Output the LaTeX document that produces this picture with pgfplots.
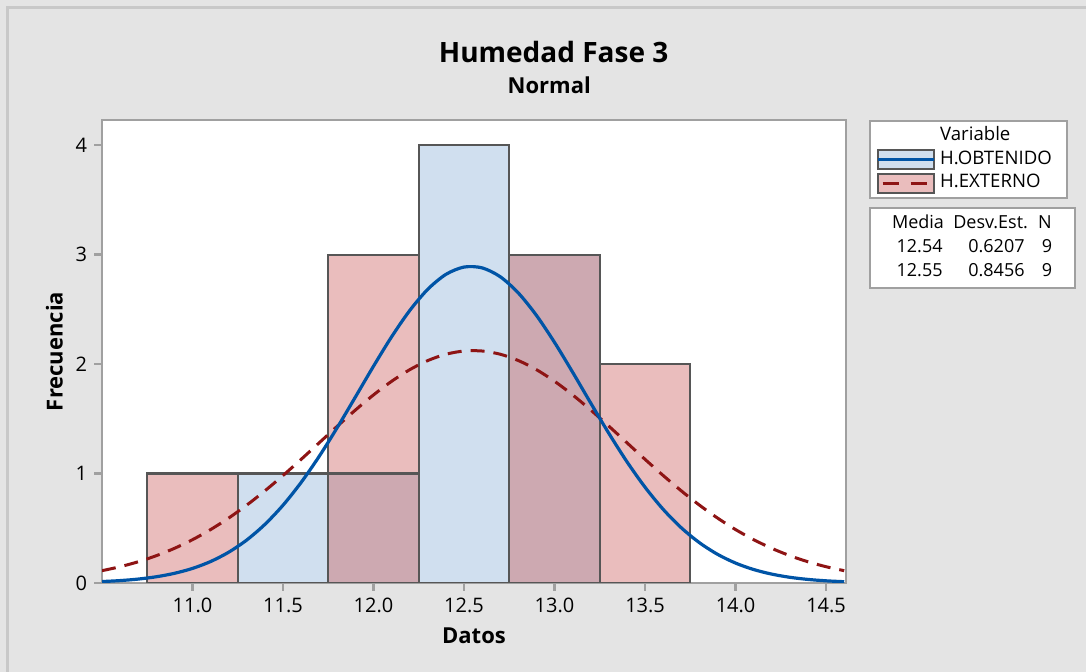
\documentclass[border=0pt]{standalone}
\usepackage{pgfplots}
\pgfplotsset{compat=1.18}
\usepackage{fontspec}
\setmainfont{Open Sans}
\definecolor{bgc}{RGB}{228,228,228}
\definecolor{framec}{RGB}{200,200,200}
\definecolor{axisc}{RGB}{160,160,160}
\definecolor{edgec}{RGB}{86,86,86}
\definecolor{bluefill}{RGB}{208,223,239}
\definecolor{pinkfill}{RGB}{234,189,189}
\definecolor{mixfill}{RGB}{205,169,177}
\definecolor{blueline}{RGB}{0,84,166}
\definecolor{redline}{RGB}{142,20,20}

\pgfplotstableread{
x y
10.5 0.0131
10.6 0.0219
10.7 0.0357
10.8 0.0569
10.9 0.0882
11.0 0.1332
11.1 0.1961
11.2 0.2813
11.3 0.3932
11.4 0.5356
11.5 0.7106
11.6 0.9188
11.7 1.1576
11.8 1.4210
11.9 1.6997
12.0 1.9810
12.1 2.2497
12.2 2.4894
12.3 2.6840
12.4 2.8196
12.5 2.8863
12.6 2.8788
12.7 2.7978
12.8 2.6494
12.9 2.4445
13.0 2.1977
13.1 1.9252
13.2 1.6433
13.3 1.3668
13.4 1.1076
13.5 0.8746
13.6 0.6729
13.7 0.5045
13.8 0.3685
13.9 0.2623
14.0 0.1819
14.1 0.1229
14.2 0.0810
14.3 0.0519
14.4 0.0325
14.5 0.0198
14.6 0.0117
}\obtenidocurve

\pgfplotstableread{
x y
10.5 0.1124
10.6 0.1487
10.7 0.1939
10.8 0.2494
10.9 0.3164
11.0 0.3957
11.1 0.4880
11.2 0.5936
11.3 0.7119
11.4 0.8420
11.5 0.9821
11.6 1.1295
11.7 1.2810
11.8 1.4326
11.9 1.5800
12.0 1.7183
12.1 1.8427
12.2 1.9487
12.3 2.0322
12.4 2.0899
12.5 2.1193
12.6 2.1193
12.7 2.0899
12.8 2.0322
12.9 1.9487
13.0 1.8427
13.1 1.7183
13.2 1.5800
13.3 1.4326
13.4 1.2810
13.5 1.1295
13.6 0.9821
13.7 0.8420
13.8 0.7119
13.9 0.5936
14.0 0.4880
14.1 0.3957
14.2 0.3164
14.3 0.2494
14.4 0.1939
14.5 0.1487
14.6 0.1124
}\externocurve

\begin{document}
\begin{tikzpicture}
\path[use as bounding box] (0,0) rectangle (543pt,336pt);
\fill[bgc] (0,0) rectangle (543pt,336pt);
\draw[framec, line width=1.3pt] (3.75pt,0) -- (3.75pt,332.25pt) -- (543pt,332.25pt);

\node[anchor=base, font=\fontsize{14}{16}\selectfont\bfseries] at (276.8pt,304.6pt) {Humedad Fase 3};
\node[anchor=base, font=\fontsize{11}{13}\selectfont\bfseries] at (274.6pt,289pt) {Normal};

\begin{axis}[
  at={(51pt,44.5pt)}, anchor=south west,
  scale only axis, width=372pt, height=231.5pt,
  xmin=10.5, xmax=14.61, ymin=0, ymax=4.23,
  axis background/.style={fill=white},
  axis line style={draw=axisc, line width=1.2pt},
  tick pos=left, tick align=outside,
  major tick length=4pt,
  every tick/.style={draw=axisc, line width=1.2pt},
  xtick={11,11.5,12,12.5,13,13.5,14,14.5},
  ytick={0,1,2,3,4},
  xticklabel style={/pgf/number format/.cd, fixed, fixed zerofill, precision=1},
  /pgf/number format/assume math mode=true,
  tick label style={font=\fontsize{10}{12}\selectfont, text=black},
  xlabel={Datos}, ylabel={Frecuencia},
  xlabel style={at={(axis description cs:0.5,0)}, anchor=base, yshift=-30.5pt, font=\fontsize{11}{13}\selectfont\bfseries},
  ylabel style={at={(axis description cs:-0.053,0.5)}, anchor=base, font=\fontsize{11}{13}\selectfont\bfseries},
  legend style={
    at={(axis description cs:1,1)}, anchor=north west, xshift=11.5pt,
    fill=white, draw=axisc, line width=1pt,
    font=\fontsize{9.3}{10}\selectfont,
    inner xsep=3pt, inner ysep=1.6pt, row sep=0pt,
    nodes={text height=6.7pt, text depth=1.9pt, inner ysep=1.6pt, inner xsep=2.5pt},
  },
  legend cell align=left,
]
% H.EXTERNO histogram
\addplot[ybar, bar width=0.5, bar shift=0pt, fill=pinkfill, draw=edgec, line width=1.1pt, forget plot]
  coordinates {(11.0,1) (12.0,3) (13.0,3) (13.5,2)};
% H.OBTENIDO histogram
\addplot[ybar, bar width=0.5, bar shift=0pt, fill=bluefill, draw=edgec, line width=1.1pt, forget plot]
  coordinates {(11.5,1) (12.0,1) (12.5,4) (13.0,3)};
% overlap of both histograms
\addplot[ybar, bar width=0.5, bar shift=0pt, fill=mixfill, draw=edgec, line width=1.1pt, forget plot]
  coordinates {(12.0,1) (13.0,3)};
% fitted normal curves
\addplot[smooth, redline, line width=1.5pt, dash pattern=on 7pt off 4.5pt, forget plot] table[x=x,y=y] {\externocurve};
\addplot[smooth, blueline, line width=1.6pt, forget plot] table[x=x,y=y] {\obtenidocurve};

\addlegendimage{empty legend}
\addlegendentry{\makebox[58pt][l]{Variable}}
\addlegendimage{legend image code/.code={
  \draw[fill=bluefill, draw=edgec, line width=1pt] (0pt,-4.75pt) rectangle (28pt,4.75pt);
  \draw[blueline, line width=1.6pt] (0pt,0pt) -- (28pt,0pt);}}
\addlegendentry{\makebox[58pt][l]{H.OBTENIDO}}
\addlegendimage{legend image code/.code={
  \draw[fill=pinkfill, draw=edgec, line width=1pt] (0pt,-4.75pt) rectangle (28pt,4.75pt);
  \draw[redline, line width=1.5pt, dash pattern=on 8pt off 6pt, dash phase=-1.5pt] (1pt,0pt) -- (27pt,0pt);}}
\addlegendentry{\makebox[58pt][l]{H.EXTERNO}}
\end{axis}

% statistics box
\draw[draw=axisc, line width=1pt, fill=white] (435pt,192pt) rectangle (537.5pt,232.2pt);
\begin{scope}[every node/.style={inner sep=0pt, font=\fontsize{9}{10}\selectfont}]
\node[anchor=base] at (459pt,221.5pt) {Media};
\node[anchor=base] at (495.3pt,221.5pt) {Desv.Est.};
\node[anchor=base] at (522.5pt,221.5pt) {N};
\node[anchor=base] at (459.8pt,209.7pt) {12.54};
\node[anchor=base east] at (512.5pt,209.7pt) {0.6207};
\node[anchor=base] at (523.5pt,209.7pt) {9};
\node[anchor=base] at (459.8pt,197.7pt) {12.55};
\node[anchor=base east] at (512.5pt,197.7pt) {0.8456};
\node[anchor=base] at (523.5pt,197.7pt) {9};
\end{scope}
\end{tikzpicture}
\end{document}
